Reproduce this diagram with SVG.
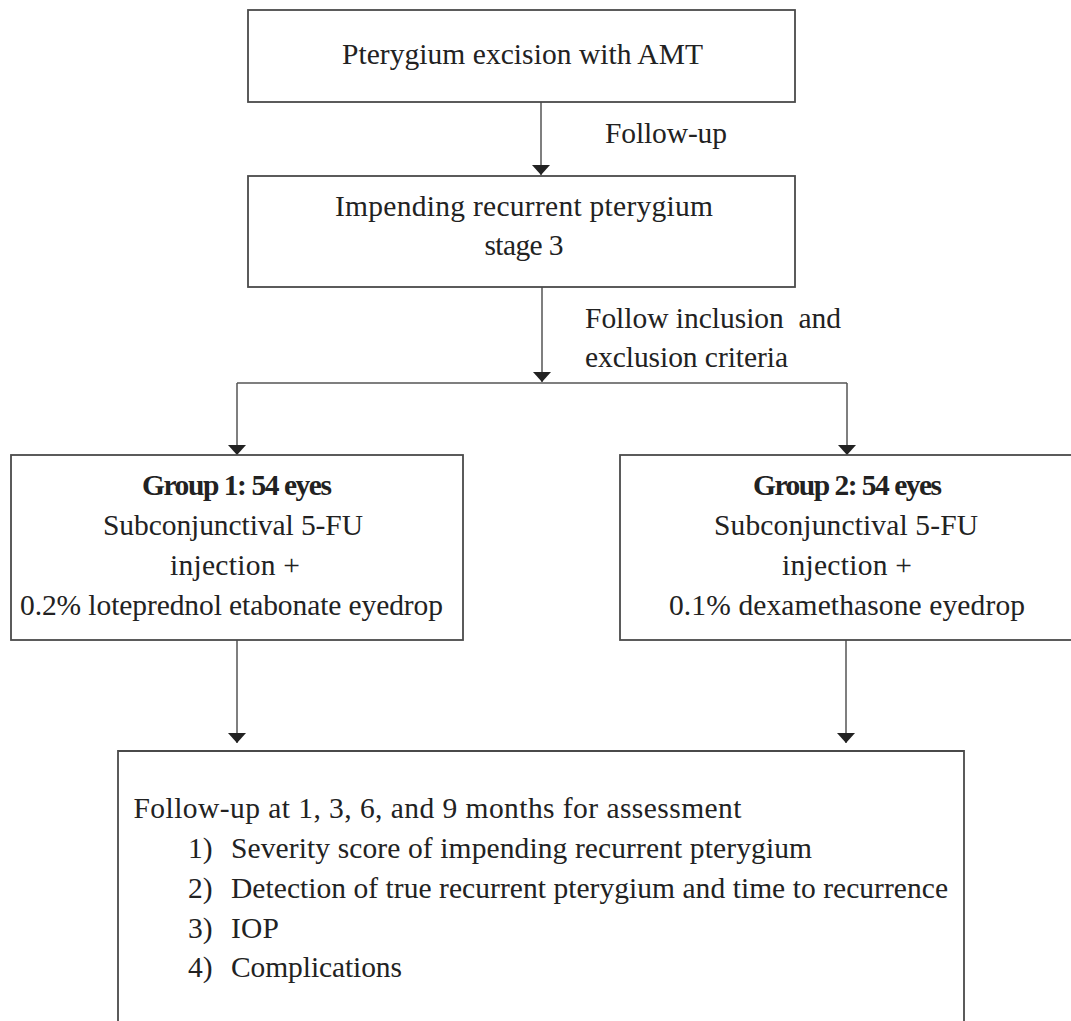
<svg xmlns="http://www.w3.org/2000/svg" width="1071" height="1021" viewBox="0 0 1071 1021">
<defs>
<style>
.box{fill:#fff;stroke:#4a4a4a;stroke-width:1.8}
.con{fill:none;stroke:#555;stroke-width:1.5}
text{font-family:'Liberation Serif','Times New Roman','DejaVu Serif',serif;font-size:29.5px;fill:#222}
.c{text-anchor:middle}
.b{font-weight:bold}
</style>
<marker id="ah" markerUnits="userSpaceOnUse" markerWidth="11" markerHeight="18" refX="10" refY="9" orient="auto" viewBox="0 0 11 18">
<path d="M0,0 L10,9 L0,18 z" fill="#222"/>
</marker>
</defs>
<rect width="1071" height="1021" fill="#fff"/>
<g font-family="Liberation Serif, Times New Roman, DejaVu Serif, serif">
<g id="connectors">
<line class="con" x1="541" y1="102" x2="541" y2="175" marker-end="url(#ah)"/>
<line class="con" x1="542" y1="287" x2="542" y2="382" marker-end="url(#ah)"/>
<line class="con" x1="237" y1="383" x2="847" y2="383"/>
<line class="con" x1="237" y1="383" x2="237" y2="455" marker-end="url(#ah)"/>
<line class="con" x1="847" y1="383" x2="847" y2="455" marker-end="url(#ah)"/>
<line class="con" x1="237" y1="640" x2="237" y2="743" marker-end="url(#ah)"/>
<line class="con" x1="846" y1="640" x2="846" y2="743" marker-end="url(#ah)"/>
<text x="605" y="143" textLength="122">Follow-up</text>
<text x="585" y="328" textLength="256" xml:space="preserve">Follow inclusion  and</text>
<text x="585" y="367" textLength="203">exclusion criteria</text>
</g>
<g id="node-excision">
<rect class="box" x="248" y="10" width="547" height="92"/>
<text class="c" x="522.5" y="64" textLength="361">Pterygium excision with AMT</text>
</g>
<g id="node-impending">
<rect class="box" x="248" y="176" width="547" height="111"/>
<text class="c" x="524" y="216" textLength="378">Impending recurrent pterygium</text>
<text class="c" x="524" y="255" textLength="79">stage 3</text>
</g>
<g id="node-group1">
<rect class="box" x="11" y="455" width="452" height="185"/>
<text class="c b" x="237" y="495" textLength="190">Group 1: 54 eyes</text>
<text class="c" x="233" y="535" textLength="260">Subconjunctival 5-FU</text>
<text class="c" x="235" y="575" textLength="130">injection +</text>
<text class="c" x="231.5" y="615" textLength="423">0.2% loteprednol etabonate eyedrop</text>
</g>
<g id="node-group2">
<rect class="box" x="620" y="455" width="453" height="185"/>
<text class="c b" x="847.5" y="495" textLength="189">Group 2: 54 eyes</text>
<text class="c" x="846" y="535" textLength="264">Subconjunctival 5-FU</text>
<text class="c" x="847" y="575" textLength="130">injection +</text>
<text class="c" x="847" y="615" textLength="356">0.1% dexamethasone eyedrop</text>
</g>
<g id="node-followup">
<path class="box" d="M118,1024 V751 H964 V1024"/>
<text x="133.5" y="818" textLength="608">Follow-up at 1, 3, 6, and 9 months for assessment</text>
<text x="188" y="858">1)</text>
<text x="231" y="858" textLength="581">Severity score of impending recurrent pterygium</text>
<text x="188" y="898">2)</text>
<text x="231" y="898" textLength="717">Detection of true recurrent pterygium and time to recurrence</text>
<text x="188" y="938">3)</text>
<text x="231" y="938" textLength="48">IOP</text>
<text x="188" y="977">4)</text>
<text x="231" y="977" textLength="171">Complications</text>
</g>
</g>
</svg>
